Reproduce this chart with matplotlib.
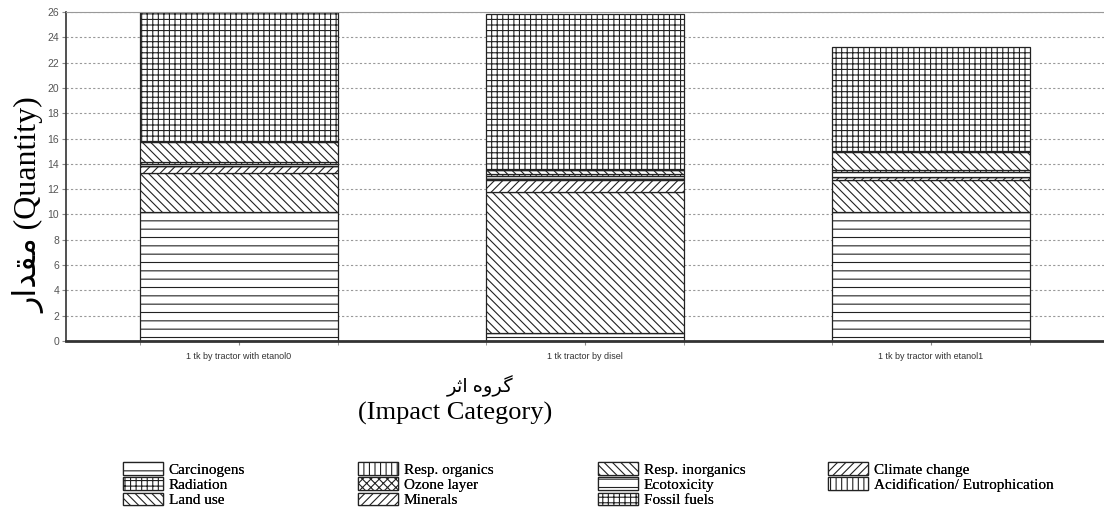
import matplotlib
matplotlib.use('Agg')
import matplotlib.pyplot as plt
from matplotlib.patches import Patch
import numpy as np

# Данные
categories = ['1 tk by tractor with etanol0', '1 tk tractor by disel', '1 tk by tractor with etanol1']
impacts = ['Carcinogens', 'Resp. organics', 'Resp. inorganics', 'Climate change',
           'Radiation', 'Ozone layer', 'Ecotoxicity', 'Acidification/ Eutrophication',
           'Land use', 'Minerals', 'Fossil fuels']

carcinogens = [10.2, 0.65, 10.2]
resp_organics = [0.02, 0.01, 0.02]
resp_inorganics = [3.05, 11.15, 2.5]
climate_change = [0.55, 0.95, 0.25]
radiation = [0.02, 0.01, 0.02]
ozone_layer = [0.01, 0.01, 0.01]
ecotoxicity = [0.15, 0.25, 0.35]
acidification = [0.15, 0.2, 0.15]
land_use = [1.6, 0.25, 1.45]
minerals = [0.05, 0.05, 0.05]
fossil_fuels = [10.2, 12.35, 8.2]

series = [carcinogens, resp_organics, resp_inorganics, climate_change, radiation,
          ozone_layer, ecotoxicity, acidification, land_use, minerals, fossil_fuels]
hatches = ['--', '|||', '\\\\\\\\', '////', '+++', 'xxxx', '--', '|||',
           '\\\\\\\\', '////', '+++']

plt.rcParams['hatch.linewidth'] = 0.8

fig = plt.figure(figsize=(11.04, 5.26), dpi=100)
ax = fig.add_axes([66 / 1104, 1 - 341 / 526, 1 - 66 / 1104, (341 - 12) / 526])

x = np.arange(len(categories))
width = 0.575
bottom = np.zeros(len(categories))
for vals, h in zip(series, hatches):
    ax.bar(x, vals, width, bottom=bottom, color='white', edgecolor='#222222',
           hatch=h, linewidth=0.9)
    bottom += np.array(vals)

ax.set_xlim(-0.5, 2.5)
ax.set_ylim(0, 26)
ax.set_yticks(range(0, 27, 2))
ax.set_xticks(x)
ax.set_xticklabels(categories, fontsize=6.5, color='#333333', family='Liberation Sans')
ax.set_xticks(np.concatenate([x - width / 2, x + width / 2]), minor=True)
for lbl in ax.get_yticklabels():
    lbl.set_fontsize(7.5)
    lbl.set_color('#555555')
    lbl.set_family('Liberation Sans')
ax.tick_params(axis='y', length=3, color='#888888', pad=2)
ax.tick_params(axis='x', which='both', length=3, color='#888888', pad=5)

# Сетка
ax.yaxis.grid(True, linestyle=(0, (2, 2)), color='#999999', linewidth=0.8)
ax.set_axisbelow(True)

ax.spines['right'].set_visible(False)
ax.spines['top'].set_color('#999999')
ax.spines['top'].set_linewidth(0.8)
ax.spines['left'].set_color('#333333')
ax.spines['left'].set_linewidth(1.2)
ax.spines['bottom'].set_color('#333333')
ax.spines['bottom'].set_linewidth(2)

# Подписи осей (арабские буквы в видимом порядке)
fam = ['Liberation Serif', 'DejaVu Sans']
fig.text(29 / 1104, 1 - 205 / 526, '\uFEAD\uFE8D\uFEAA\uFED8\uFEE3 (Quantity)',
         rotation=90, ha='center', va='center', fontsize=23, family=fam)
fig.text(480 / 1104, 1 - 386 / 526, '\uFEAE\uFE9B\uFE8D \uFEE9\uFEED\uFEAE\uFB94',
         ha='center', va='center', fontsize=14, family=fam)
fig.text(455 / 1104, 1 - 413 / 526, '(Impact Category)',
         ha='center', va='center', fontsize=19, family=fam)

# Легенда: 4 колонки
handles = [Patch(facecolor='white', edgecolor='#222222', hatch=h, linewidth=0.9) for h in hatches]
col_x = [123, 358, 598, 828]
for c in range(4):
    idx = list(range(c, len(impacts), 4))
    leg = fig.legend([handles[i] for i in idx], [impacts[i] for i in idx],
                     loc='upper left', bbox_to_anchor=(col_x[c] / 1104, 1 - 462 / 526),
                     frameon=False, borderpad=0, borderaxespad=0,
                     handlelength=2.6, handleheight=0.9, handletextpad=0.4,
                     labelspacing=0.05, prop={'family': 'Liberation Serif', 'size': 11})
    fig.add_artist(leg)

fig.savefig('out.png', dpi=100)
plt.close(fig)
